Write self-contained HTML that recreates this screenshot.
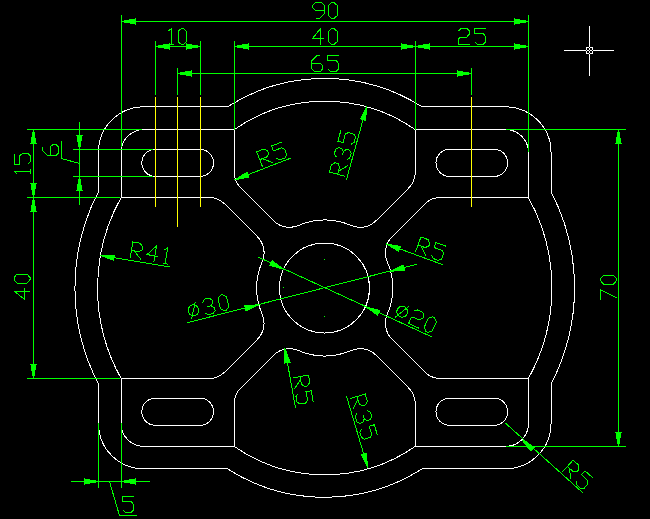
<!DOCTYPE html>
<html><head><meta charset="utf-8"><style>
html,body{margin:0;padding:0;background:#000;width:650px;height:519px;overflow:hidden;font-family:"Liberation Sans",sans-serif;}
svg{display:block;}
</style></head><body>
<svg width="650" height="519" viewBox="0 0 650 519" shape-rendering="crispEdges">
<rect width="100%" height="100%" fill="#000"/>
<g fill="none" stroke="#ffffff" stroke-width="1"><path transform="translate(0,-0.15)" d="M143.75,107 L227.41,107 A181,181 0 0 1 422.09,107 L505.75,107 A45.25,45.25 0 0 1 551,152.25 L551,191.79 A208.15,208.15 0 0 1 551,384.21 L551,423.75 A45.25,45.25 0 0 1 505.75,469 L422.09,469 A181,181 0 0 1 227.41,469 L143.75,469 A45.25,45.25 0 0 1 98.5,423.75 L98.5,384.21 A208.15,208.15 0 0 1 98.5,191.79 L98.5,152.25 A45.25,45.25 0 0 1 143.75,107 Z"/><path d="M143.75,129.62 L234.25,129.62 A158.38,158.38 0 0 1 415.25,129.62 L505.75,129.62 A22.62,22.62 0 0 1 528.38,152.25 L528.38,197.5 A185.53,185.53 0 0 1 528.38,378.5 L528.38,423.75 A22.62,22.62 0 0 1 505.75,446.38 L415.25,446.38 A158.38,158.38 0 0 1 234.25,446.38 L143.75,446.38 A22.62,22.62 0 0 1 121.12,423.75 L121.12,378.5 A185.53,185.53 0 0 1 121.12,197.5 L121.12,152.25 A22.62,22.62 0 0 1 143.75,129.62 Z"/><path d="M234.25,129.62 L234.25,172.13 A22.62,22.62 0 0 0 240.88,188.13 L273.43,220.68 A22.62,22.62 0 0 0 298.26,225.51 A67.88,67.88 0 0 1 351.24,225.51 A22.62,22.62 0 0 0 376.07,220.68 L408.62,188.13 A22.62,22.62 0 0 0 415.25,172.13 L415.25,129.62"/><path d="M415.25,446.38 L415.25,403.87 A22.62,22.62 0 0 0 408.62,387.87 L376.07,355.32 A22.62,22.62 0 0 0 351.24,350.49 A67.88,67.88 0 0 1 298.26,350.49 A22.62,22.62 0 0 0 273.43,355.32 L240.88,387.87 A22.62,22.62 0 0 0 234.25,403.87 L234.25,446.38"/><path d="M121.12,378.5 L208.88,378.5 A22.62,22.62 0 0 0 224.88,371.87 L257.43,339.32 A22.62,22.62 0 0 0 262.26,314.49 A67.88,67.88 0 0 1 262.26,261.51 A22.62,22.62 0 0 0 257.43,236.68 L224.88,204.13 A22.62,22.62 0 0 0 208.88,197.5 L121.12,197.5"/><path d="M528.38,197.5 L440.62,197.5 A22.62,22.62 0 0 0 424.62,204.13 L392.07,236.68 A22.62,22.62 0 0 0 387.24,261.51 A67.88,67.88 0 0 1 387.24,314.49 A22.62,22.62 0 0 0 392.07,339.32 L424.62,371.87 A22.62,22.62 0 0 0 440.62,378.5 L528.38,378.5"/><path d="M279.5,288 A45,45 0 1 1 369.5,288 A45,45 0 1 1 279.5,288 Z"/><path d="M155.06,398.16 L200.31,398.16 A13.58,13.58 0 0 1 200.31,425.31 L155.06,425.31 A13.58,13.58 0 0 1 155.06,398.16 Z"/><path d="M155.06,149.29 L200.31,149.29 A13.58,13.58 0 0 1 200.31,176.44 L155.06,176.44 A13.58,13.58 0 0 1 155.06,149.29 Z"/><path d="M449.19,398.16 L494.44,398.16 A13.58,13.58 0 0 1 494.44,425.31 L449.19,425.31 A13.58,13.58 0 0 1 449.19,398.16 Z"/><path d="M449.19,149.29 L494.44,149.29 A13.58,13.58 0 0 1 494.44,176.44 L449.19,176.44 A13.58,13.58 0 0 1 449.19,149.29 Z"/></g>
<g fill="none" stroke="#ffff00" stroke-width="1" stroke-linecap="square"><path d="M155.5,97.5 L155.5,206.5"/><path d="M177.5,97.5 L177.5,226.5"/><path d="M200.5,97.5 L200.5,206.5"/><path d="M471.5,97.5 L471.5,206.5"/></g>
<g fill="#00ff00" stroke="#00ff00" stroke-width="1" stroke-linecap="square"><path d="M121.5,15 L121.5,146.5"/><path d="M528.5,15 L528.5,151.5"/><path d="M121.5,21.5 L528.5,21.5"/><path d="M121.5,21.5 L135.5,24.1 L135.5,18.9 Z"/><path d="M528.5,21.5 L514.5,18.9 L514.5,24.1 Z"/><path d="M155.5,41.5 L155.5,94.5"/><path d="M200.5,41.5 L200.5,94.5"/><path d="M155.5,46.5 L200.5,46.5"/><path d="M155.5,46.5 L169.5,49.1 L169.5,43.9 Z"/><path d="M200.5,46.5 L186.5,43.9 L186.5,49.1 Z"/><path d="M234.5,41.5 L234.5,129.5"/><path d="M415.5,41.5 L415.5,129.5"/><path d="M234.5,46.5 L528.5,46.5"/><path d="M234.5,46.5 L248.5,49.1 L248.5,43.9 Z"/><path d="M415.5,46.5 L401.5,43.9 L401.5,49.1 Z"/><path d="M415.5,46.5 L429.5,49.1 L429.5,43.9 Z"/><path d="M528.5,46.5 L514.5,43.9 L514.5,49.1 Z"/><path d="M177.5,68.5 L177.5,94.5"/><path d="M471.5,68.5 L471.5,94.5"/><path d="M177.5,73.5 L471.5,73.5"/><path d="M177.5,73.5 L191.5,76.1 L191.5,70.9 Z"/><path d="M471.5,73.5 L457.5,70.9 L457.5,76.1 Z"/><path d="M27.5,129.5 L141.5,129.5"/><path d="M27.5,197.5 L119.5,197.5"/><path d="M27.5,378.5 L119.5,378.5"/><path d="M33.5,129.5 L33.5,378.5"/><path d="M33.5,129.5 L30.9,143.5 L36.1,143.5 Z"/><path d="M33.5,197.5 L36.1,183.5 L30.9,183.5 Z"/><path d="M33.5,197.5 L30.9,211.5 L36.1,211.5 Z"/><path d="M33.5,378.5 L36.1,364.5 L30.9,364.5 Z"/><path d="M73.5,149.5 L152.5,149.5"/><path d="M73.5,176.5 L152.5,176.5"/><path d="M79.5,122.5 L79.5,204.5"/><path d="M79.5,149.5 L82.1,135.5 L76.9,135.5 Z"/><path d="M79.5,176.5 L76.9,190.5 L82.1,190.5 Z"/><path fill="none" d="M61.5,141.5 V158.5 L79.5,163.5"/><path d="M506.5,129.5 L625.5,129.5"/><path d="M506.5,446.5 L625.5,446.5"/><path d="M618.5,129.5 L618.5,446.5"/><path d="M618.5,129.5 L615.9,143.5 L621.1,143.5 Z"/><path d="M618.5,446.5 L621.1,432.5 L615.9,432.5 Z"/><path d="M98.5,423.5 L98.5,487.5"/><path d="M121.5,423.5 L121.5,487.5"/><path d="M71.5,481.5 L149.5,481.5"/><path d="M98.5,481.5 L84.5,478.9 L84.5,484.1 Z"/><path d="M121.5,481.5 L135.5,484.1 L135.5,478.9 Z"/><path fill="none" d="M109.5,481.5 L119.5,515.5 H136.5"/><path d="M235,179.7 L290.5,158.2"/><path d="M235,179.7 L248.99,177.07 L247.12,172.22 Z"/><path d="M366.8,106.1 L346.4,179.8"/><path d="M366.8,106.1 L360.56,118.9 L365.57,120.29 Z"/><path d="M100.2,255.3 L169.5,267"/><path d="M100.2,255.3 L113.57,260.19 L114.44,255.07 Z"/><path d="M386.4,244 L442.2,264.5"/><path d="M386.4,244 L398.64,251.27 L400.44,246.39 Z"/><path d="M188,322.5 L416.9,264.2"/><path d="M258.97,304.75 L244.76,305.63 L246.02,310.67 Z"/><path d="M390.53,271.25 L404.72,270.15 L403.38,265.12 Z"/><path d="M258,257 L431.4,336.7"/><path d="M283.64,269.1 L272.08,260.77 L269.86,265.48 Z"/><path d="M365.86,306.9 L377.53,315.06 L379.69,310.33 Z"/><path d="M285,348.8 L295.4,407.5"/><path d="M285,348.8 L284.88,363.04 L290,362.13 Z"/><path d="M367.7,467.4 L346.6,396.5"/><path d="M367.7,467.4 L366.2,453.24 L361.21,454.72 Z"/><path d="M505.8,423.5 L582.7,492.7"/><path d="M522,440 L530.87,451.14 L534.28,447.22 Z"/></g>
<g fill="none" stroke="#00ff00" stroke-width="1"><g transform="translate(312.5,2.5) rotate(0)"><path transform="translate(0,0)" d="M3,0 H9 L11.7,3 V11.6 L6.7,16 H3"/><path transform="translate(0,0)" d="M3,0 L0,3 V5.3 L3,8 H11.7"/><path transform="translate(16,0)" d="M3.3,0 H5.6 L8.8,3 V13 L5.6,16 H3.3 L0,13 V3 Z"/></g><g transform="translate(168,28.5) rotate(0)"><path transform="translate(0,0)" d="M0.2,2.5 L3.4,0 V16"/><path transform="translate(0,0)" d="M1,16 H6"/><path transform="translate(10,0)" d="M3.3,0 H5.6 L8.8,3 V13 L5.6,16 H3.3 L0,13 V3 Z"/></g><g transform="translate(312.5,28.5) rotate(0)"><path transform="translate(0,0)" d="M8,16 V0 L0,10 H11.5"/><path transform="translate(16,0)" d="M3.3,0 H5.6 L8.8,3 V13 L5.6,16 H3.3 L0,13 V3 Z"/></g><g transform="translate(458.5,28.5) rotate(0)"><path transform="translate(0,0)" d="M0,2.3 L2.8,0 H8.3 L11,2.6 V5.3 L8.3,8.5 H2.8 L0.2,10 V16 H11.5"/><path transform="translate(16,0)" d="M11,0 H0 V5.3 H8.8 L11,7.8 V13.5 L8.5,16 H3 L0.2,13.2"/></g><g transform="translate(311.5,55.5) rotate(0)"><path transform="translate(0,0)" d="M8.8,0 H5.4 L0.4,5 V13.5 L3,16 H8.8 L11.1,13.5 V10.3 L8.8,7.7 H0"/><path transform="translate(16,0)" d="M11,0 H0 V5.3 H8.8 L11,7.8 V13.5 L8.5,16 H3 L0.2,13.2"/></g><g transform="translate(14.5,174.5) rotate(-90)"><path transform="translate(0,0)" d="M0.2,2.5 L3.4,0 V16"/><path transform="translate(0,0)" d="M1,16 H6"/><path transform="translate(10,0)" d="M11,0 H0 V5.3 H8.8 L11,7.8 V13.5 L8.5,16 H3 L0.2,13.2"/></g><g transform="translate(14,299) rotate(-90)"><path transform="translate(0,0)" d="M8,16 V0 L0,10 H11.5"/><path transform="translate(16,0)" d="M3.3,0 H5.6 L8.8,3 V13 L5.6,16 H3.3 L0,13 V3 Z"/></g><g transform="translate(42.5,155.8) rotate(-90)"><path transform="translate(0,0)" d="M8.8,0 H5.4 L0.4,5 V13.5 L3,16 H8.8 L11.1,13.5 V10.3 L8.8,7.7 H0"/></g><g transform="translate(600.5,300) rotate(-90)"><path transform="translate(0,0)" d="M0,0 H10.4 L2.3,16"/><path transform="translate(16,0)" d="M3.3,0 H5.6 L8.8,3 V13 L5.6,16 H3.3 L0,13 V3 Z"/></g><g transform="translate(122.5,496.5) rotate(0)"><path transform="translate(0,0)" d="M11,0 H0 V5.3 H8.8 L11,7.8 V13.5 L8.5,16 H3 L0.2,13.2"/></g><g transform="translate(256.68,151.78) rotate(-21.18)"><path transform="translate(0,0)" d="M0,16 V0 H7.5 L10.5,3 V6 L7.5,8.5 H0"/><path transform="translate(0,0)" d="M3,8.5 L11,16"/><path transform="translate(16,0)" d="M11,0 H0 V5.3 H8.8 L11,7.8 V13.5 L8.5,16 H3 L0.2,13.2"/></g><g transform="translate(329.37,171.97) rotate(-74.53)"><path transform="translate(0,0)" d="M0,16 V0 H7.5 L10.5,3 V6 L7.5,8.5 H0"/><path transform="translate(0,0)" d="M3,8.5 L11,16"/><path transform="translate(16,0)" d="M0,3 L3,0 H7.5 L10,2.5 V5.5 L7.5,8 H4"/><path transform="translate(16,0)" d="M7.5,8 L10.5,10.5 V13.5 L8,16 H3 L0,13.5"/><path transform="translate(32,0)" d="M11,0 H0 V5.3 H8.8 L11,7.8 V13.5 L8.5,16 H3 L0.2,13.2"/></g><g transform="translate(132.86,242.05) rotate(9.58)"><path transform="translate(0,0)" d="M0,16 V0 H7.5 L10.5,3 V6 L7.5,8.5 H0"/><path transform="translate(0,0)" d="M3,8.5 L11,16"/><path transform="translate(16,0)" d="M8,16 V0 L0,10 H11.5"/><path transform="translate(32,0)" d="M0.2,2.5 L3.4,0 V16"/><path transform="translate(32,0)" d="M1,16 H6"/></g><g transform="translate(420.94,236.98) rotate(20.17)"><path transform="translate(0,0)" d="M0,16 V0 H7.5 L10.5,3 V6 L7.5,8.5 H0"/><path transform="translate(0,0)" d="M3,8.5 L11,16"/><path transform="translate(16,0)" d="M11,0 H0 V5.3 H8.8 L11,7.8 V13.5 L8.5,16 H3 L0.2,13.2"/></g><g transform="translate(186.15,303.88) rotate(-14.29)"><path transform="translate(0,0)" d="M9.5,0 L1.5,16"/><path transform="translate(0,0)" d="M5.5,2.6 A5.4,5.4 0 1 1 5.49,2.6 Z"/><path transform="translate(16,0)" d="M0,3 L3,0 H7.5 L10,2.5 V5.5 L7.5,8 H4"/><path transform="translate(16,0)" d="M7.5,8 L10.5,10.5 V13.5 L8,16 H3 L0,13.5"/><path transform="translate(32,0)" d="M3.3,0 H5.6 L8.8,3 V13 L5.6,16 H3.3 L0,13 V3 Z"/></g><g transform="translate(400.51,302.14) rotate(24.68)"><path transform="translate(0,0)" d="M9.5,0 L1.5,16"/><path transform="translate(0,0)" d="M5.5,2.6 A5.4,5.4 0 1 1 5.49,2.6 Z"/><path transform="translate(16,0)" d="M0,2.3 L2.8,0 H8.3 L11,2.6 V5.3 L8.3,8.5 H2.8 L0.2,10 V16 H11.5"/><path transform="translate(32,0)" d="M3.3,0 H5.6 L8.8,3 V13 L5.6,16 H3.3 L0,13 V3 Z"/></g><g transform="translate(308.45,375.11) rotate(79.95)"><path transform="translate(0,0)" d="M0,16 V0 H7.5 L10.5,3 V6 L7.5,8.5 H0"/><path transform="translate(0,0)" d="M3,8.5 L11,16"/><path transform="translate(16,0)" d="M11,0 H0 V5.3 H8.8 L11,7.8 V13.5 L8.5,16 H3 L0.2,13.2"/></g><g transform="translate(365.19,394.1) rotate(73.43)"><path transform="translate(0,0)" d="M0,16 V0 H7.5 L10.5,3 V6 L7.5,8.5 H0"/><path transform="translate(0,0)" d="M3,8.5 L11,16"/><path transform="translate(16,0)" d="M0,3 L3,0 H7.5 L10,2.5 V5.5 L7.5,8 H4"/><path transform="translate(16,0)" d="M7.5,8 L10.5,10.5 V13.5 L8,16 H3 L0,13.5"/><path transform="translate(32,0)" d="M11,0 H0 V5.3 H8.8 L11,7.8 V13.5 L8.5,16 H3 L0.2,13.2"/></g><g transform="translate(573.09,460.1) rotate(41.98)"><path transform="translate(0,0)" d="M0,16 V0 H7.5 L10.5,3 V6 L7.5,8.5 H0"/><path transform="translate(0,0)" d="M3,8.5 L11,16"/><path transform="translate(16,0)" d="M11,0 H0 V5.3 H8.8 L11,7.8 V13.5 L8.5,16 H3 L0.2,13.2"/></g></g>
<g fill="#00ff00"><rect x="324" y="259" width="1" height="1"/><rect x="283" y="287" width="1" height="1"/><rect x="324" y="316" width="1" height="1"/></g>
<g fill="#ffffff"><rect x="589" y="26" width="1" height="50"/><rect x="564" y="50" width="50" height="1"/><rect x="586" y="47" width="7" height="1"/><rect x="586" y="53" width="7" height="1"/><rect x="586" y="47" width="1" height="7"/><rect x="592" y="47" width="1" height="7"/></g>
<g fill="#000"><rect x="589" y="47" width="1" height="1"/><rect x="589" y="53" width="1" height="1"/><rect x="586" y="50" width="1" height="1"/><rect x="592" y="50" width="1" height="1"/><rect x="589" y="50" width="1" height="1"/></g>
</svg>
</body></html>
